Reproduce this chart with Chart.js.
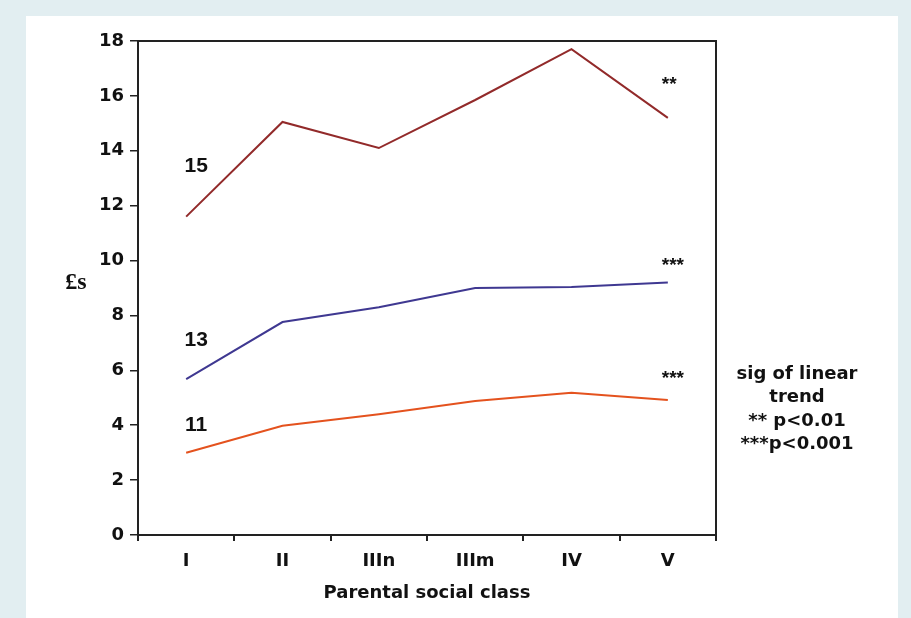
<!DOCTYPE html>
<html>
<head>
    <meta charset="utf-8">
    <script src="https://cdn.jsdelivr.net/npm/chart.js@4.4.1/dist/chart.umd.min.js"></script>
    <title>Pocket money by parental social class</title>
    <style>
        html, body { margin: 0; padding: 0; background: #e2eef1; }
        #wrap { width: 911px; height: 618px; }
    </style>
</head>
<body>
    <div id="wrap"><canvas id="line-chart" width="911" height="618"></canvas></div>
    <script>
        // data
        const classes = ['I', 'II', 'IIIn', 'IIIm', 'IV', 'V'];
        const age15 = [11.6, 15.05, 14.1, 15.85, 17.7, 15.2];
        const age13 = [5.68, 7.76, 8.3, 9.0, 9.04, 9.2];
        const age11 = [3.0, 3.98, 4.4, 4.88, 5.18, 4.92];
        const yTicks = [0, 2, 4, 6, 8, 10, 12, 14, 16, 18];

        // series labels and significance stars (value positions in chart units)
        const ageLabels = [['15', 13.45], ['13', 7.1], ['11', 4.0]];
        const stars = [['**', 16.4], ['***', 9.8], ['***', 5.7]];
        const noteLines = ['sig of linear', 'trend', '** p<0.01', '***p<0.001'];

        const bold18 = { family: 'DejaVu Sans', size: 18, weight: 'bold' };

        const decor = {
            id: 'decor',
            beforeDraw(chart) {
                const ctx = chart.ctx;
                ctx.save();
                ctx.fillStyle = '#e2eef1';
                ctx.fillRect(0, 0, chart.width, chart.height);
                ctx.fillStyle = '#ffffff';
                ctx.fillRect(26, 16, 872, chart.height - 16);
                ctx.restore();
            },
            afterDatasetsDraw(chart) {
                const ctx = chart.ctx;
                const a = chart.chartArea;
                const x = chart.scales.x, y = chart.scales.y;
                ctx.save();
                // plot box
                ctx.strokeStyle = '#222';
                ctx.lineWidth = 2;
                ctx.strokeRect(a.left, a.top, a.right - a.left, a.bottom - a.top);

                ctx.fillStyle = '#111';
                ctx.textBaseline = 'middle';
                ctx.font = 'bold 21px "Liberation Sans"';
                ctx.textAlign = 'center';
                ageLabels.forEach(([t, v]) => {
                    ctx.fillText(t, x.getPixelForValue(0) + 10, y.getPixelForValue(v));
                });

                ctx.font = 'bold 19px "Liberation Sans"';
                ctx.textAlign = 'left';
                stars.forEach(([t, v]) => {
                    ctx.fillText(t, x.getPixelForValue(classes.length - 1) - 6, y.getPixelForValue(v));
                });

                // y axis title
                ctx.font = 'bold 24px "Liberation Serif"';
                ctx.textAlign = 'center';
                ctx.fillText('£s', 76, y.getPixelForValue(9.2));

                // note on the right
                ctx.font = 'bold 18px "DejaVu Sans"';
                noteLines.forEach((t, i) => {
                    ctx.fillText(t, 797, 374 + i * 23.5);
                });
                ctx.restore();
            }
        };

        new Chart(document.getElementById('line-chart'), {
            type: 'line',
            data: {
                labels: classes,
                datasets: [
                    { label: '15', data: age15, borderColor: '#922a2a' },
                    { label: '13', data: age13, borderColor: '#3f3891' },
                    { label: '11', data: age11, borderColor: '#e4521e' }
                ].map(d => Object.assign(d, { borderWidth: 2, pointRadius: 0, tension: 0, fill: false }))
            },
            options: {
                responsive: false,
                animation: false,
                layout: { padding: { top: 41, right: 195, left: 0, bottom: 0 } },
                plugins: {
                    legend: { display: false },
                    tooltip: { enabled: false }
                },
                scales: {
                    x: {
                        offset: true,
                        grid: { offset: true, drawOnChartArea: false, drawTicks: true, tickLength: 6, color: '#222', lineWidth: 2 },
                        border: { display: true, color: '#222', width: 2 },
                        ticks: { color: '#111', font: bold18, padding: 10, maxRotation: 0 },
                        title: { display: true, text: 'Parental social class', color: '#111', font: bold18, padding: { top: 0, bottom: 14 } },
                        afterFit(scale) { scale.height = 83; }
                    },
                    y: {
                        min: 0,
                        max: 18,
                        afterBuildTicks(scale) { scale.ticks = yTicks.map(v => ({ value: v })); },
                        grid: { drawOnChartArea: false, drawTicks: true, tickLength: 8, color: '#222', lineWidth: 1.5 },
                        border: { display: true, color: '#222', width: 2 },
                        ticks: { color: '#111', font: bold18, padding: 6 },
                        afterFit(scale) { scale.width = 138; }
                    }
                }
            },
            plugins: [decor]
        });
    </script>
</body>
</html>
